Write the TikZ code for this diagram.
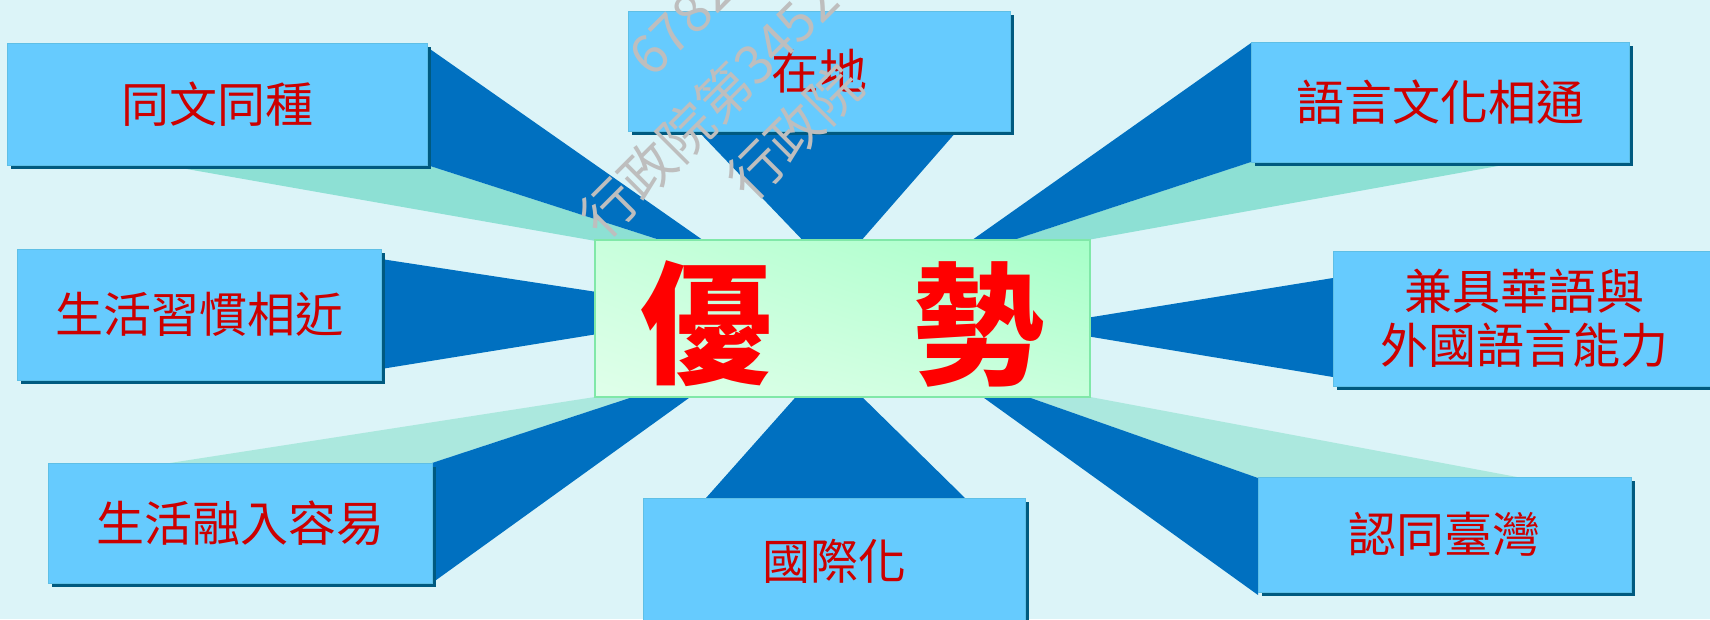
\documentclass[tikz,border=0pt]{standalone}
\usepackage{fontspec}
\newfontfamily\cjk{Noto Sans CJK TC}
\usetikzlibrary{shadows,shadings}
\definecolor{bgc}{HTML}{DCF4F8}
\definecolor{boxc}{HTML}{66CBFE}
\definecolor{boxedge}{HTML}{5EBFE6}
\definecolor{shadowc}{HTML}{005A80}
\definecolor{rayc}{HTML}{0070C0}
\definecolor{tealtop}{HTML}{8DE0D4}
\definecolor{tealbot}{HTML}{ABE8DE}
\definecolor{labelc}{HTML}{CC0000}
\definecolor{bigc}{HTML}{FF0000}
\definecolor{cedge}{HTML}{80E8A8}
\definecolor{cdark}{HTML}{A6FFC8}
\definecolor{clight}{HTML}{E0FFEA}
\definecolor{wmc}{HTML}{BEBEBE}
\begin{document}
\begin{tikzpicture}[x=1pt,y=-1pt,
  lbox/.style={rectangle, fill=boxc, draw=boxedge, line width=1pt,
    drop shadow={shadow xshift=4pt,shadow yshift=-4pt,fill=shadowc,opacity=1},
    text=labelc, font=\cjk\fontsize{48}{54}\selectfont, align=center, inner sep=0pt},
  darkray/.style={fill=rayc},
  tealup/.style={fill=tealtop},
  tealdown/.style={fill=tealbot},
  bigtext/.style={text=bigc, font=\cjk\bfseries\fontsize{132}{132}\selectfont, inner sep=0pt},
  wmark/.style={text=wmc, font=\cjk\fontsize{54}{54}\selectfont, rotate=45, anchor=west, inner sep=0pt}]
\useasboundingbox (0,0) rectangle (1710,619);
\clip (0,0) rectangle (1710,619);
\fill[bgc] (0,0) rectangle (1710,619);
% rays
\fill[tealup] (164,165) -- (427,165) -- (691,250) -- (647,250) -- cycle;
\fill[darkray] (427,47) -- (717,250) -- (691,250) -- (427,165) -- cycle;
\fill[darkray] (698,131) -- (812,250) -- (853,250) -- (957,131) -- cycle;
\fill[tealup] (1251,162) -- (1520,162) -- (1032,250) -- (983,250) -- cycle;
\fill[darkray] (1251,43) -- (958,250) -- (983,250) -- (1251,162) -- cycle;
\fill[darkray] (381,259) -- (610,294) -- (610,332) -- (381,369) -- cycle;
\fill[darkray] (1333,278) -- (1080,319) -- (1080,335) -- (1333,377) -- cycle;
\fill[tealdown] (170,463) -- (432,463) -- (654,390) -- (640,390) -- cycle;
\fill[darkray] (432,463) -- (654,390) -- (700,390) -- (432,583) -- cycle;
\fill[darkray] (706,498) -- (802,390) -- (855,390) -- (965,498) -- cycle;
\fill[tealdown] (1258,478) -- (1517,477) -- (1053,390) -- (1008,390) -- cycle;
\fill[darkray] (1258,478) -- (1008,390) -- (973,390) -- (1258,595) -- cycle;
% boxes
\node[lbox, minimum width=420pt, minimum height=122pt] (b1) at (217,104) {同文同種};
\node[lbox, minimum width=382pt, minimum height=120pt] (b2) at (819,71) {在地};
\node[lbox, minimum width=378pt, minimum height=120pt] (b3) at (1440,102) {語言文化相通};
\node[lbox, minimum width=364pt, minimum height=131pt] (b4) at (199,314.5) {生活習慣相近};
\node[lbox, minimum width=382pt, minimum height=135pt] (b5) at (1524,318.5) {兼具華語與\\外國語言能力};
\node[lbox, minimum width=384pt, minimum height=120pt] (b6) at (240,523) {生活融入容易};
\node[lbox, minimum width=382pt, minimum height=127pt] (b7) at (834,561.5) {國際化};
\node[lbox, minimum width=373pt, minimum height=115pt] (b8) at (1444.5,534.5) {認同臺灣};
% center
\node[rectangle, draw=cedge, line width=2pt, lower left=clight, upper right=cdark,
  lower right=clight!60!cdark, upper left=clight!60!cdark,
  minimum width=495pt, minimum height=157pt] (c) at (842.5,318.5) {};
\node[bigtext] (t1) at (706,324) {優};
\node[bigtext] (t2) at (978,324) {勢};
% watermark
\node[wmark] (w1) at (639,66) {6782};
\node[wmark] (w2) at (590,227) {行政院第3452};
\node[wmark] (w3) at (737,189) {行政院};
\end{tikzpicture}
\end{document}
